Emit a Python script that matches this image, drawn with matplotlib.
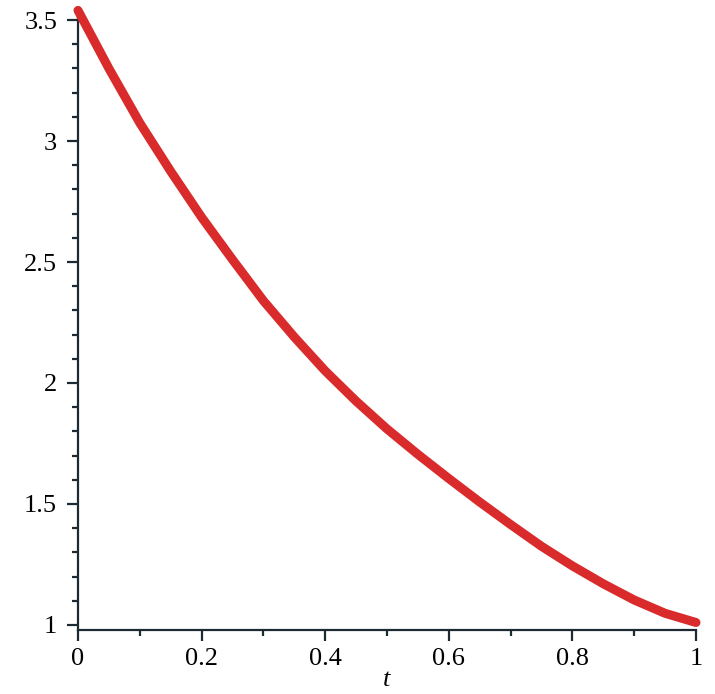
import matplotlib
matplotlib.use("Agg")
import matplotlib.pyplot as plt
from matplotlib.ticker import MultipleLocator, FixedLocator

t_values = [0.0, 0.05, 0.1, 0.15, 0.2, 0.25, 0.3, 0.35, 0.4, 0.45, 0.5,
            0.55, 0.6, 0.65, 0.7, 0.75, 0.8, 0.85, 0.9, 0.95, 1.0]
y_values = [3.54, 3.30, 3.075, 2.875, 2.685, 2.51, 2.34, 2.19, 2.05, 1.925, 1.81,
            1.705, 1.605, 1.508, 1.415, 1.325, 1.244, 1.17, 1.103, 1.048, 1.01]
x_ticks = [0, 0.2, 0.4, 0.6, 0.8, 1]
x_tick_labels = ["0", "0.2", "0.4", "0.6", "0.8", "1"]
y_ticks = [1, 1.5, 2, 2.5, 3, 3.5]
y_tick_labels = ["1", "1.5", "2", "2.5", "3", "3.5"]

plt.rcParams['font.family'] = ['Liberation Serif', 'DejaVu Serif']

fig = plt.figure(figsize=(7.15, 6.94), dpi=100)
ax = fig.add_axes([78/715, 1 - 630/694, (696-78)/715, (630-8)/694])

ax.plot(t_values, y_values, color='#d92b2b', lw=6.5, solid_capstyle='round',
        solid_joinstyle='round', clip_on=False, zorder=3)

ax.set_xlim(0, 1)
ax.set_ylim(0.979, 3.55)

for s in ['top', 'right']:
    ax.spines[s].set_visible(False)
axis_color = '#1c2a33'
for s in ['left', 'bottom']:
    ax.spines[s].set_color(axis_color)
    ax.spines[s].set_linewidth(1.6)

ax.xaxis.set_major_locator(FixedLocator(x_ticks))
ax.set_xticklabels(x_tick_labels)
ax.yaxis.set_major_locator(FixedLocator(y_ticks))
ax.set_yticklabels(y_tick_labels)
ax.xaxis.set_minor_locator(MultipleLocator(0.1))
ax.yaxis.set_minor_locator(MultipleLocator(0.1))

ax.tick_params(axis='both', which='major', direction='out', length=8, width=1.6,
               color=axis_color, labelsize=19, labelcolor='black')
ax.tick_params(axis='both', which='minor', direction='out', length=4.5, width=1.6,
               color=axis_color)
ax.tick_params(axis='y', which='major', pad=7)
ax.tick_params(axis='x', which='major', pad=5)

ax.set_xlabel('t', fontsize=19, style='italic', labelpad=-1)

fig.savefig('out.png', dpi=100)
